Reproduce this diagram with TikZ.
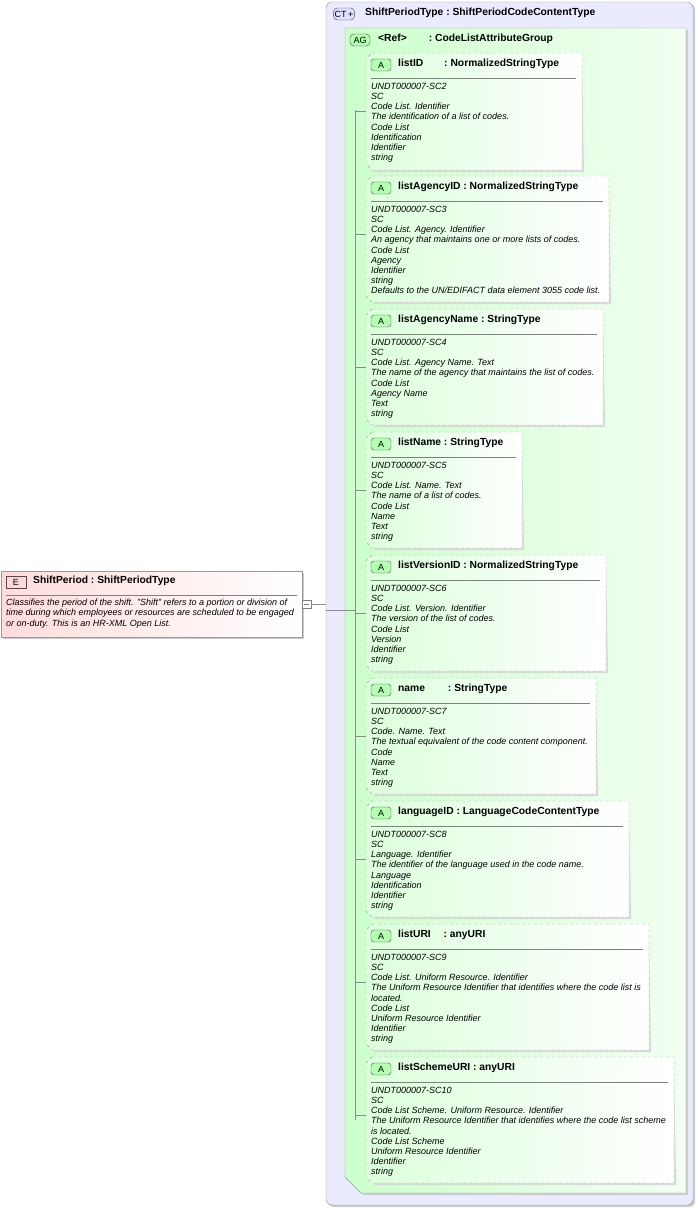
\documentclass[tikz,border=0pt]{standalone}
\usepackage{fontspec}
\setmainfont{Liberation Sans}
\begin{document}
\begin{tikzpicture}[x=1pt,y=-1pt,
  hdr/.style={anchor=west,font=\fontsize{10.3}{11}\selectfont\bfseries,inner sep=0},
  body/.style={anchor=north west,align=left,inner sep=0,font=\fontsize{9}{10.15}\selectfont\itshape},
  badge/.style={draw=black!70,rounded corners=1.5,font=\fontsize{9}{9}\selectfont,inner sep=1.2,minimum width=20,minimum height=12},
  conn/.style={draw=black!45,line width=0.5}]
\useasboundingbox (0,0) rectangle (697,1208);
% CT box
\fill[black!20,rounded corners=6] (328,4) rectangle (695,1207);
\draw[black!45,fill=blue!8,rounded corners=6] (326,2) rectangle (693,1205);
\node[badge,fill=blue!12,rounded corners=4] (ct) at (344,14) {CT\,+};
\node[hdr] (cth) at (365,13) {ShiftPeriodType\ :\ ShiftPeriodCodeContentType};
% AG box
\fill[black!20] (347,30)--(688,30)--(688,1195)--(363,1195)--(347,1179)--cycle;
\draw[black!40,left color=green!20,right color=green!5] (345,28)--(686,28)--(686,1193)--(361,1193)--(345,1177)--cycle;
\node[badge,fill=green!30,rounded corners=4] (ag) at (360,40) {AG};
\node[hdr] (agh) at (378,39) {<Ref>\hspace{22pt}:\ CodeListAttributeGroup};
% E box
\fill[black!20] (3,573) rectangle (304,639);
\draw[black!40,left color=red!14,right color=white] (1,571) rectangle (302,637);
\node[badge,fill=red!15,rounded corners=0] (e) at (16,582) {E};
\node[hdr] (eh) at (33,581) {ShiftPeriod\ :\ ShiftPeriodType};
\draw[black!50] (6,595)--(297,595);
\node[body] (ed) at (6,599) {Classifies the period of the shift. "Shift" refers to a portion or division of\\time during which employees or resources are scheduled to be engaged\\or on-duty. This is an HR-XML Open List.};
\draw[black!50,fill=white] (302,600) rectangle (311,608);
\draw[black!50] (304,604)--(309,604);
\coordinate (bus) at (355,610);
\draw[conn] (311,604)--(326,604);
\draw[conn] (326,610)--(bus);
\draw[conn] (355,110)--(355,1120);
% attributes
\foreach \t/\r/\b/\nm/\ty/\body in {
 53/582/170/{listID\hspace{18pt}}/{NormalizedStringType}/{UNDT000007-SC2\\SC\\Code List. Identifier\\The identification of a list of codes.\\Code List\\Identification\\Identifier\\string},
 176/609/302/{listAgencyID}/{NormalizedStringType}/{UNDT000007-SC3\\SC\\Code List. Agency. Identifier\\An agency that maintains one or more lists of codes.\\Code List\\Agency\\Identifier\\string\\Defaults to the UN/EDIFACT data element 3055 code list.},
 309/603/425/{listAgencyName}/{StringType}/{UNDT000007-SC4\\SC\\Code List. Agency Name. Text\\The name of the agency that maintains the list of codes.\\Code List\\Agency Name\\Text\\string},
 432/522/548/{listName}/{StringType}/{UNDT000007-SC5\\SC\\Code List. Name. Text\\The name of a list of codes.\\Code List\\Name\\Text\\string},
 555/606/671/{listVersionID}/{NormalizedStringType}/{UNDT000007-SC6\\SC\\Code List. Version. Identifier\\The version of the list of codes.\\Code List\\Version\\Identifier\\string},
 678/596/794/{name\hspace{20pt}}/{StringType}/{UNDT000007-SC7\\SC\\Code. Name. Text\\The textual equivalent of the code content component.\\Code\\Name\\Text\\string},
 801/629/917/{languageID}/{LanguageCodeContentType}/{UNDT000007-SC8\\SC\\Language. Identifier\\The identifier of the language used in the code name.\\Language\\Identification\\Identifier\\string},
 924/649/1050/{listURI\hspace{10pt}}/{anyURI}/{UNDT000007-SC9\\SC\\Code List. Uniform Resource. Identifier\\The Uniform Resource Identifier that identifies where the code list is\\located.\\Code List\\Uniform Resource Identifier\\Identifier\\string},
 1057/674/1183/{listSchemeURI}/{anyURI}/{UNDT000007-SC10\\SC\\Code List Scheme. Uniform Resource. Identifier\\The Uniform Resource Identifier that identifies where the code list scheme\\is located.\\Code List Scheme\\Uniform Resource Identifier\\Identifier\\string}}
{
 \fill[black!15] (\r+2,\t+2) rectangle (\r+2,\b+2) -- (374,\b+2) -- (374,\b) -- (\r,\b) -- (\r,\t+2) -- cycle;
 \draw[black!35,dashed,left color=green!14,right color=white] (372,\t)--(\r,\t)--(\r,\b)--(372,\b)--(366,\b-6)--(366,\t+6)--cycle;
 \node[badge,fill=green!30,rounded corners=3] (a\t) at (381,\t+12) {A};
 \node[hdr] (n\t) at (398,\t+11) {\nm\ :\ \ty};
 \draw[black!50] (371,\t+25)--(\r-6,\t+25);
 \node[body] (d\t) at (371,\t+30) {\body};
 \draw[conn] (355,\t+58)--(366,\t+58);
}
\end{tikzpicture}
\end{document}
